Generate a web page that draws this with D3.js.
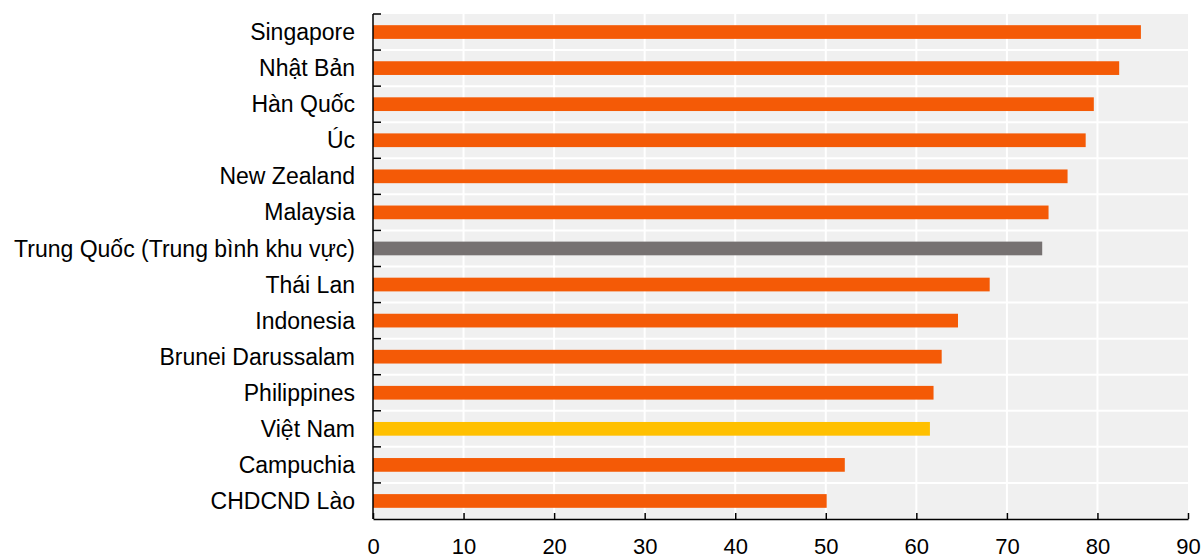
<!DOCTYPE html>
<meta charset="utf-8"/>
<style>
  body { margin: 0; background: #fff; }
  text { font-family: "Liberation Sans", Arial, sans-serif; fill: #000; }
</style>
<svg width="1202" height="556"></svg>
<script src="https://cdn.jsdelivr.net/npm/d3@7"></script>
<script>

  // data
  var countries = ["Singapore", "Nhật Bản", "Hàn Quốc", "Úc", "New Zealand", "Malaysia",
    "Trung Quốc (Trung bình khu vực)", "Thái Lan", "Indonesia", "Brunei Darussalam",
    "Philippines", "Việt Nam", "Campuchia", "CHDCND Lào"];
  var scores = [84.8, 82.4, 79.6, 78.7, 76.7, 74.6, 73.9, 68.1, 64.6, 62.8, 61.9, 61.5, 52.1, 50.1];
  var xTicks = [0, 10, 20, 30, 40, 50, 60, 70, 80, 90];

  var svg = d3.select("svg"),
    margin = {top: 14, right: 14, bottom: 37, left: 373},
    width = +svg.attr("width") - margin.left - margin.right,
    height = +svg.attr("height") - margin.top - margin.bottom;

  var g = svg.append("g").attr("transform", "translate(" + margin.left + "," + margin.top + ")");

  var x = d3.scaleLinear().domain([0, 90]).range([0, width]);
  var y = d3.scaleBand().domain(countries).range([0, height]).padding(0);

  function barColor(name) {
    if (name == "Việt Nam") return "#ffc000";
    if (name.indexOf("Trung Quốc") == 0) return "#767171";
    return "#f45a06";
  }

  // grey plot background
  g.append("rect")
    .attr("width", width)
    .attr("height", height)
    .attr("fill", "#f0f0f0");

  // white grid, vertical
  g.selectAll(".vgrid")
    .data(xTicks.slice(1, -1))
    .enter().append("line")
    .attr("x1", function (d) { return x(d); })
    .attr("x2", function (d) { return x(d); })
    .attr("y1", 0)
    .attr("y2", height)
    .attr("stroke", "#fff")
    .attr("stroke-width", 2);

  // white grid, horizontal between categories
  g.selectAll(".hgrid")
    .data(countries.slice(1))
    .enter().append("line")
    .attr("x1", 0)
    .attr("x2", width)
    .attr("y1", function (d) { return y(d); })
    .attr("y2", function (d) { return y(d); })
    .attr("stroke", "#fff")
    .attr("stroke-width", 2);

  var barH = y.bandwidth() * 0.38;

  g.selectAll(".bar")
    .data(countries)
    .enter().append("rect")
    .attr("x", 0)
    .attr("y", function (d) { return y(d) + (y.bandwidth() - barH) / 2; })
    .attr("width", function (d, i) { return x(scores[i]); })
    .attr("height", barH)
    .attr("fill", barColor);

  // category labels
  g.selectAll(".lab")
    .data(countries)
    .enter().append("text")
    .attr("x", -18)
    .attr("y", function (d) { return y(d) + y.bandwidth() / 2; })
    .attr("dy", "0.35em")
    .attr("text-anchor", "end")
    .style("font-size", "23px")
    .text(function (d) { return d; });

  // y axis line + inward ticks at band edges
  g.append("line")
    .attr("x1", 0).attr("x2", 0)
    .attr("y1", 0).attr("y2", height)
    .attr("stroke", "#000").attr("stroke-width", 1.5);

  g.selectAll(".ytick")
    .data(countries)
    .enter().append("line")
    .attr("x1", 0).attr("x2", 8)
    .attr("y1", function (d) { return y(d); })
    .attr("y2", function (d) { return y(d); })
    .attr("stroke", "#000").attr("stroke-width", 1.5);

  // x axis
  var xAxis = g.append("g")
    .attr("transform", "translate(0," + height + ")")
    .call(d3.axisBottom(x).tickValues(xTicks).tickSizeInner(-6).tickSizeOuter(0).tickPadding(19));

  xAxis.select(".domain").attr("stroke", "#000").attr("stroke-width", 1.5);
  xAxis.selectAll(".tick line").attr("stroke", "#000").attr("stroke-width", 1.5);
  xAxis.selectAll(".tick text")
    .style("font-size", "22px")
    .style("font-family", "'Liberation Sans', Arial, sans-serif")
    .attr("fill", "#000");

</script>
